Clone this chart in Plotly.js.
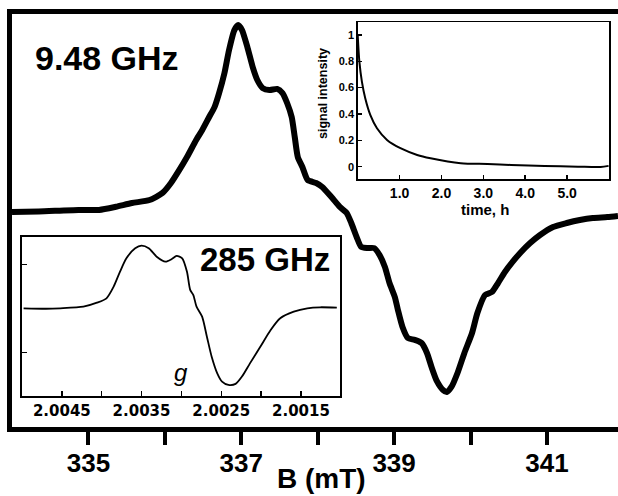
<!DOCTYPE html>
<html>
<head>
<meta charset="utf-8">
<script src="https://cdn.plot.ly/plotly-3.0.1.min.js"></script>
<style>html,body{margin:0;padding:0;background:#fff;}#chart{width:618px;height:496px;}</style>
</head>
<body>
<div id="chart"></div>
<script>
// Main X-band spectrum (9.48 GHz): field B (mT) and derivative signal (a.u.)
const fieldB = [334.00, 334.35, 334.87, 335.14, 335.36, 335.57, 335.80, 335.97, 336.08, 336.19,
  336.29, 336.41, 336.49, 336.58, 336.65, 336.71, 336.78, 336.84, 336.91, 336.96,
  337.01, 337.08, 337.15, 337.21, 337.28, 337.37, 337.47, 337.54, 337.60, 337.66,
  337.70, 337.74, 337.80, 337.87, 337.98, 338.06, 338.18, 338.29, 338.38, 338.44,
  338.51, 338.57, 338.65, 338.74, 338.81, 338.88, 338.94, 339.01, 339.05, 339.11,
  339.18, 339.27, 339.36, 339.43, 339.49, 339.56, 339.64, 339.69, 339.75, 339.83,
  339.92, 340.02, 340.09, 340.19, 340.28, 340.36, 340.45, 340.55, 340.65, 340.78,
  340.91, 341.08, 341.26, 341.43, 341.60, 341.79, 341.93];
const xbandSignal = [0.000, 0.003, 0.011, 0.011, 0.028, 0.048, 0.064, 0.102, 0.155, 0.225,
  0.294, 0.385, 0.439, 0.508, 0.561, 0.636, 0.743, 0.866, 0.973, 1.000,
  0.973, 0.882, 0.775, 0.706, 0.663, 0.652, 0.658, 0.636, 0.583, 0.508,
  0.401, 0.294, 0.241, 0.171, 0.155, 0.134, 0.080, 0.027, -0.005, -0.059,
  -0.134, -0.187, -0.193, -0.193, -0.230, -0.294, -0.380, -0.455, -0.524, -0.615,
  -0.674, -0.684, -0.701, -0.754, -0.829, -0.905, -0.952, -0.963, -0.936, -0.861,
  -0.754, -0.647, -0.540, -0.444, -0.428, -0.380, -0.321, -0.267, -0.219, -0.166,
  -0.123, -0.080, -0.059, -0.043, -0.032, -0.027, -0.021];

// 285 GHz inset: g value and signal
const gValue = [2.00498, 2.00470, 2.00452, 2.00423, 2.00406, 2.00394, 2.00385, 2.00377, 2.00369, 2.00358,
  2.00350, 2.00341, 2.00331, 2.00320, 2.00312, 2.00306, 2.00299, 2.00293, 2.00289, 2.00285,
  2.00281, 2.00274, 2.00268, 2.00262, 2.00255, 2.00249, 2.00241, 2.00232, 2.00224, 2.00214,
  2.00201, 2.00188, 2.00176, 2.00159, 2.00142, 2.00126, 2.00105];
const hfSignal = [0.000, -0.010, 0.000, 0.036, 0.127, 0.227, 0.492, 0.833, 1.136, 1.364,
  1.423, 1.364, 1.173, 1.059, 1.120, 1.189, 1.136, 0.830, 0.420, 0.300,
  0.036, -0.191, -0.645, -1.100, -1.477, -1.666, -1.741, -1.718, -1.552, -1.252,
  -0.875, -0.493, -0.227, -0.077, 0.000, 0.023, 0.014];

// Decay inset: time (h) and signal intensity
const timeH = [0.00, 0.04, 0.10, 0.18, 0.30, 0.46, 0.70, 1.02, 1.42, 1.74, 2.46, 3.10, 3.66, 4.46, 5.26, 5.80, 5.99];
const intensity = [1.000, 0.797, 0.645, 0.519, 0.393, 0.292, 0.203, 0.140, 0.089, 0.064, 0.026, 0.020, 0.013, 0.005, 0.000, -0.002, 0.006];

const mainTicks = [335, 336, 337, 338, 339, 340, 341];
const mainTickText = ['335', '', '337', '', '339', '', '341'];
const gTicks = [2.0045, 2.0040, 2.0035, 2.0030, 2.0025, 2.0020, 2.0015];
const gTickText = ['2.0045', '', '2.0035', '', '2.0025', '', '2.0015'];
const timeTicks = [1, 2, 3, 4, 5];
const timeTickText = ['1.0', '2.0', '3.0', '4.0', '5.0'];
const intTicks = [0, 0.2, 0.4, 0.6, 0.8, 1];
const intTickText = ['0', '0.2', '0.4', '0.6', '0.8', '1'];

const W = 618, H = 496;
const px = x => x / W;
const py = y => 1 - y / H;
const FONT = 'Liberation Sans, Arial, sans-serif';

const traces = [
  {x: fieldB, y: xbandSignal, xaxis: 'x', yaxis: 'y', mode: 'lines',
   line: {color: '#000', width: 6, shape: 'spline', smoothing: 0.6}, hoverinfo: 'skip'},
  {x: timeH, y: intensity, xaxis: 'x2', yaxis: 'y2', mode: 'lines',
   line: {color: '#000', width: 2, shape: 'spline', smoothing: 0.8}, hoverinfo: 'skip'},
  {x: gValue, y: hfSignal, xaxis: 'x3', yaxis: 'y3', mode: 'lines',
   line: {color: '#000', width: 1.8, shape: 'spline', smoothing: 0.7}, hoverinfo: 'skip'}
];

const layout = {
  width: W, height: H,
  margin: {l: 0, r: 0, t: 0, b: 0},
  paper_bgcolor: '#fff', plot_bgcolor: '#fff',
  showlegend: false,
  font: {family: FONT, color: '#000'},
  xaxis: {
    domain: [px(12), 1], range: [334.0, 341.93],
    showline: true, linewidth: 5, linecolor: '#000', mirror: true,
    showgrid: false, zeroline: false,
    ticks: 'outside', ticklen: 13, tickwidth: 4, tickcolor: '#000',
    ticklabelstandoff: -4,
    tickvals: mainTicks, ticktext: mainTickText,
    tickfont: {family: FONT, size: 26, color: '#000', weight: 'bold'}
  },
  yaxis: {
    domain: [py(427), py(14)], range: [-1.150, 1.059],
    showline: true, linewidth: 5, linecolor: '#000', mirror: false,
    showgrid: false, zeroline: false, showticklabels: false, ticks: ''
  },
  xaxis2: {
    anchor: 'y2', domain: [px(357.7), px(609)], range: [0, 6],
    showline: true, linewidth: 1.5, linecolor: '#000', mirror: true,
    showgrid: false, zeroline: false,
    ticks: 'inside', ticklen: 4, tickwidth: 1.5, tickcolor: '#000',
    tickvals: timeTicks, ticktext: timeTickText,
    tickfont: {family: FONT, size: 14, color: '#000', weight: 'bold'}
  },
  yaxis2: {
    anchor: 'x2', domain: [py(179.3), py(22.3)], range: [-0.096, 1.096],
    showline: true, linewidth: 1.5, linecolor: '#000', mirror: true,
    showgrid: false, zeroline: false,
    ticks: 'inside', ticklen: 4, tickwidth: 1.5, tickcolor: '#000',
    tickvals: intTicks, ticktext: intTickText,
    tickfont: {family: FONT, size: 11, color: '#000', weight: 'bold'}
  },
  xaxis3: {
    anchor: 'y3', domain: [px(22), px(340)], range: [2.0050, 2.00101],
    showline: true, linewidth: 1.8, linecolor: '#000', mirror: true,
    showgrid: false, zeroline: false,
    ticks: 'inside', ticklen: 5, tickwidth: 1.5, tickcolor: '#000',
    tickvals: gTicks, ticktext: gTickText,
    tickfont: {family: 'DejaVu Sans, sans-serif', size: 15, color: '#000', weight: 'bold'}
  },
  yaxis3: {
    anchor: 'x3', domain: [py(396), py(237)], range: [-1.993, 1.62],
    showline: true, linewidth: 1.8, linecolor: '#000', mirror: true,
    showgrid: false, zeroline: false, showticklabels: false,
    ticks: 'inside', ticklen: 5, tickwidth: 1.5, tickcolor: '#000',
    tickvals: [-1, 1]
  },
  annotations: [
    {text: '9.48 GHz', xref: 'paper', yref: 'paper', x: px(107), y: py(58), showarrow: false,
     xanchor: 'center', yanchor: 'middle', font: {family: FONT, size: 34, color: '#000', weight: 'bold'}},
    {text: '285 GHz', xref: 'paper', yref: 'paper', x: px(265), y: py(259), showarrow: false,
     xanchor: 'center', yanchor: 'middle', font: {family: FONT, size: 33, color: '#000', weight: 'bold'}},
    {text: '<i>g</i>', xref: 'paper', yref: 'paper', x: px(181), y: py(372), showarrow: false,
     xanchor: 'center', yanchor: 'middle', font: {family: FONT, size: 24, color: '#000'}},
    {text: 'B (mT)', xref: 'paper', yref: 'paper', x: px(321), y: py(496), showarrow: false,
     xanchor: 'center', yanchor: 'bottom', font: {family: FONT, size: 28, color: '#000', weight: 'bold'}},
    {text: 'time, h', xref: 'paper', yref: 'paper', x: px(485), y: py(209), showarrow: false,
     xanchor: 'center', yanchor: 'middle', font: {family: FONT, size: 15, color: '#000', weight: 'bold'}},
    {text: 'signal intensity', xref: 'paper', yref: 'paper', x: px(323), y: py(93), showarrow: false,
     textangle: -90, xanchor: 'center', yanchor: 'middle', font: {family: FONT, size: 12.5, color: '#000', weight: 'bold'}}
  ]
};

Plotly.newPlot('chart', traces, layout, {staticPlot: true, displayModeBar: false});
</script>
</body>
</html>
